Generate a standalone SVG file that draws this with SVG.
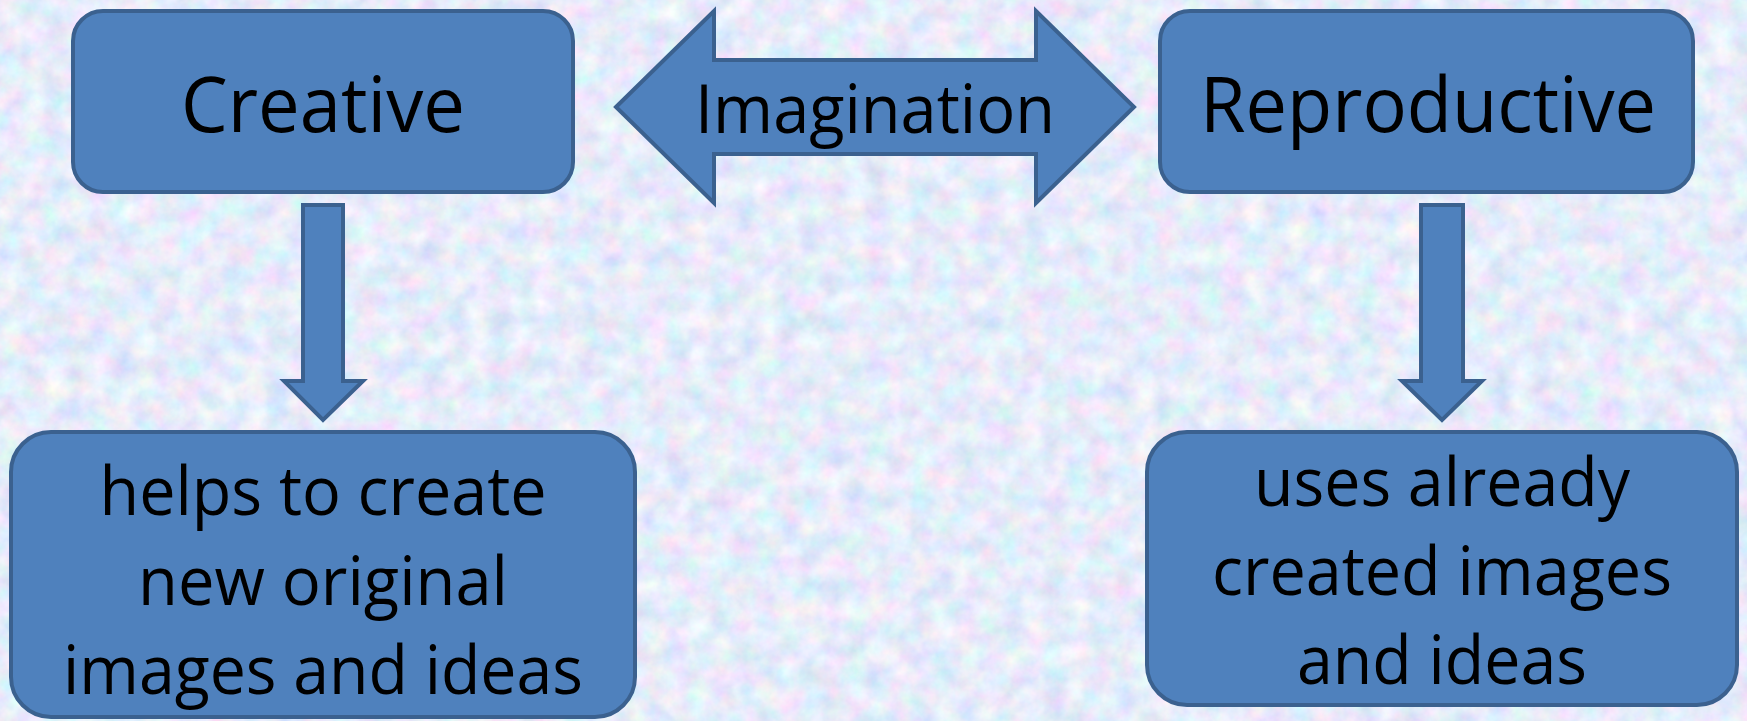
<svg xmlns="http://www.w3.org/2000/svg" width="1747" height="721" viewBox="0 0 1747 721">
  <defs>
    <filter id="paper" x="0" y="0" width="100%" height="100%">
      <feTurbulence type="fractalNoise" baseFrequency="0.045" numOctaves="4" seed="11" result="n"/>
      <feColorMatrix in="n" type="matrix" values="0.55 0 0 0 0.52  0 0.4 0 0 0.64  0 0 0.25 0 0.83  0 0 0 0 1"/>
    </filter>
    <style>
      .box { fill: #4f81bd; stroke: #3b618f; stroke-width: 4; }
      .arrow { fill: #4f81bd; stroke: #3b618f; stroke-width: 4; stroke-linejoin: miter; }
      .big { font-family: "Open Sans", "Noto Sans", "Liberation Sans", sans-serif; font-size: 77px; fill: #000; text-anchor: middle; }
      .mid { font-family: "Open Sans", "Noto Sans", "Liberation Sans", sans-serif; font-size: 67px; fill: #000; text-anchor: middle; }
    </style>
  </defs>

  <rect x="0" y="0" width="1747" height="721" fill="#c8d9f2"/>
  <rect x="0" y="0" width="1747" height="721" filter="url(#paper)"/>

  <g id="connectors">
    <polygon class="arrow" points="616,107 714,11 714,60 1036,60 1036,11 1134,107 1036,203 1036,154 714,154 714,203"/>
    <polygon class="arrow" points="303,205 343,205 343,381 363,381 323,420 284,381 303,381"/>
    <polygon class="arrow" points="1421,205 1463,205 1463,381 1482,381 1442,420 1402,381 1421,381"/>
  </g>

  <g id="imagination-label">
    <text class="mid" x="875" y="133" textLength="360" lengthAdjust="spacingAndGlyphs">Imagination</text>
  </g>

  <g id="creative">
    <rect class="box" x="73" y="11" width="500" height="181" rx="30" ry="30"/>
    <text class="big" x="323" y="132" textLength="284" lengthAdjust="spacingAndGlyphs">Creative</text>
  </g>

  <g id="reproductive">
    <rect class="box" x="1160" y="11" width="533" height="181" rx="30" ry="30"/>
    <text class="big" x="1428" y="132" textLength="456" lengthAdjust="spacingAndGlyphs">Reproductive</text>
  </g>

  <g id="creative-desc">
    <rect class="box" x="11" y="432" width="624" height="285" rx="40" ry="40"/>
    <text class="mid" x="323" y="515" textLength="447" lengthAdjust="spacingAndGlyphs">helps to create</text>
    <text class="mid" x="323" y="605" textLength="370" lengthAdjust="spacingAndGlyphs">new original</text>
    <text class="mid" x="323" y="694" textLength="520" lengthAdjust="spacingAndGlyphs">images and ideas</text>
  </g>

  <g id="reproductive-desc">
    <rect class="box" x="1147" y="432" width="590" height="273" rx="40" ry="40"/>
    <text class="mid" x="1442" y="506" textLength="376" lengthAdjust="spacingAndGlyphs">uses already</text>
    <text class="mid" x="1442" y="595" textLength="460" lengthAdjust="spacingAndGlyphs">created images</text>
    <text class="mid" x="1442" y="684" textLength="290" lengthAdjust="spacingAndGlyphs">and ideas</text>
  </g>
</svg>
